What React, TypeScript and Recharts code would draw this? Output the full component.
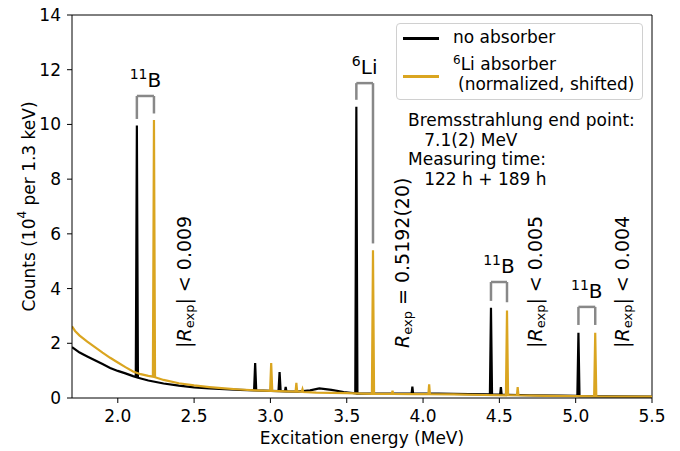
import React from "react";
import {
  LineChart,
  Line,
  XAxis,
  YAxis,
  ReferenceLine,
  ReferenceDot,
} from "recharts";

// excitation energy (MeV), counts (10^4 per 1.3 keV)
const noAbsorber: [number, number][] = [
  [1.7, 1.86], [1.75, 1.66], [1.8, 1.52], [1.85, 1.38], [1.9, 1.24],
  [1.95, 1.1], [2.0, 0.99], [2.05, 0.9], [2.1, 0.8], [2.118, 0.77],
  [2.125, 9.96], [2.132, 0.74], [2.2, 0.64], [2.3, 0.53], [2.4, 0.45],
  [2.5, 0.39], [2.6, 0.35], [2.7, 0.32], [2.8, 0.3], [2.893, 0.28],
  [2.9, 1.28], [2.907, 0.28], [3.0, 0.26], [3.053, 0.25], [3.06, 0.95],
  [3.067, 0.25], [3.095, 0.24], [3.1, 0.4], [3.105, 0.24], [3.18, 0.23],
  [3.26, 0.28], [3.32, 0.35], [3.4, 0.3], [3.48, 0.22], [3.556, 0.17],
  [3.563, 10.65], [3.57, 0.16], [3.65, 0.16], [3.8, 0.16], [3.925, 0.16],
  [3.93, 0.42], [3.935, 0.16], [4.1, 0.16], [4.3, 0.14], [4.438, 0.13],
  [4.445, 3.3], [4.452, 0.12], [4.505, 0.12], [4.51, 0.4], [4.515, 0.12],
  [4.7, 0.1], [4.9, 0.09], [5.011, 0.08], [5.018, 2.38], [5.025, 0.07],
  [5.2, 0.06], [5.5, 0.05],
];

const li6Absorber: [number, number][] = [
  [1.7, 2.62], [1.72, 2.45], [1.75, 2.28], [1.8, 2.06], [1.85, 1.86],
  [1.9, 1.66], [1.95, 1.47], [2.0, 1.3], [2.05, 1.13], [2.1, 0.97],
  [2.15, 0.87], [2.2, 0.81], [2.23, 0.78], [2.237, 10.16], [2.244, 0.76],
  [2.3, 0.66], [2.4, 0.54], [2.5, 0.46], [2.6, 0.4], [2.7, 0.35],
  [2.8, 0.31], [2.9, 0.28], [2.998, 0.26], [3.005, 1.28], [3.012, 0.26],
  [3.1, 0.24], [3.165, 0.23], [3.17, 0.55], [3.175, 0.23], [3.205, 0.23],
  [3.21, 0.32], [3.215, 0.22], [3.3, 0.2], [3.5, 0.18], [3.6, 0.16],
  [3.665, 0.15], [3.672, 5.4], [3.679, 0.15], [3.795, 0.15], [3.8, 0.26],
  [3.805, 0.15], [3.95, 0.14], [4.035, 0.14], [4.04, 0.5], [4.045, 0.14],
  [4.2, 0.13], [4.4, 0.11], [4.543, 0.1], [4.55, 3.2], [4.557, 0.1],
  [4.615, 0.1], [4.62, 0.4], [4.625, 0.1], [4.8, 0.08], [5.0, 0.07],
  [5.121, 0.06], [5.128, 2.38], [5.135, 0.06], [5.3, 0.05], [5.5, 0.05],
];

const xTicks = [2.0, 2.5, 3.0, 3.5, 4.0, 4.5, 5.0, 5.5];
const yTicks = [0, 2, 4, 6, 8, 10, 12, 14];

// isotope brackets: left/right energy, top, left leg end, right leg end
const brackets = [
  { iso: "11", el: "B", x1: 2.125, x2: 2.237, top: 11.04, y1: 10.2, y2: 10.4 },
  { iso: "6", el: "Li", x1: 3.563, x2: 3.672, top: 11.51, y1: 10.9, y2: 5.65 },
  { iso: "11", el: "B", x1: 4.445, x2: 4.55, top: 4.24, y1: 3.55, y2: 3.5 },
  { iso: "11", el: "B", x1: 5.018, x2: 5.128, top: 3.33, y1: 2.67, y2: 2.67 },
];

const ratios = [
  { x: 2.434, text: "| < 0.009", abs: true },
  { x: 3.86, text: " = 0.5192(20)", abs: false },
  { x: 4.734, text: "| < 0.005", abs: true },
  { x: 5.304, text: "| < 0.004", abs: true },
];

const FONT = "DejaVu Sans";
const GOLD = "#daa520";
const FS = 17;

const toRows = (pts: [number, number][]) => pts.map(([e, c]) => ({ e, c }));

export default function App() {
  return (
    <div style={{ position: "relative", width: 680, height: 451, fontFamily: FONT }}>
      <style>{"body{margin:0}"}</style>
      <LineChart
        width={680}
        height={451}
        margin={{ top: 15, right: 28, left: 0, bottom: 0 }}
      >
        <XAxis
          type="number"
          dataKey="e"
          domain={[1.7, 5.5]}
          ticks={xTicks}
          tickFormatter={(v: number) => v.toFixed(1)}
          allowDataOverflow
          height={53}
          tickSize={5}
          tickMargin={7}
          stroke="#000"
          tick={{ fill: "#000", fontSize: FS, fontFamily: FONT }}
          label={({ viewBox }: any) => (
            <text
              x={viewBox.x + viewBox.width / 2}
              y={viewBox.y + 40}
              textAnchor="middle"
              dominantBaseline="central"
              fontSize={FS}
              fontFamily={FONT}
            >
              Excitation energy (MeV)
            </text>
          )}
        />
        <YAxis
          type="number"
          dataKey="c"
          domain={[0, 14]}
          ticks={yTicks}
          allowDataOverflow
          width={72}
          tickSize={5}
          tickMargin={6}
          stroke="#000"
          tick={{ fill: "#000", fontSize: FS, fontFamily: FONT }}
          label={({ viewBox }: any) => {
            const cx = 29;
            const cy = viewBox.y + viewBox.height / 2;
            return (
              <text
                x={cx}
                y={cy}
                transform={`rotate(-90, ${cx}, ${cy})`}
                textAnchor="middle"
                dominantBaseline="central"
                fontSize={FS}
                fontFamily={FONT}
              >
                Counts (10
                <tspan fontSize={12} dy={-7}>4</tspan>
                <tspan dy={7}> per 1.3 keV)</tspan>
              </text>
            );
          }}
        />
        <ReferenceLine y={14} stroke="#000" />
        <ReferenceLine x={5.5} stroke="#000" />

        <Line
          data={toRows(noAbsorber)}
          dataKey="c"
          type="linear"
          stroke="#000"
          strokeWidth={2.2}
          dot={false}
          isAnimationActive={false}
        />
        <Line
          data={toRows(li6Absorber)}
          dataKey="c"
          type="linear"
          stroke={GOLD}
          strokeWidth={2.2}
          dot={false}
          isAnimationActive={false}
        />

        {brackets.flatMap((b, i) => [
          <ReferenceLine
            key={`l${i}`}
            segment={[{ x: b.x1, y: b.y1 }, { x: b.x1, y: b.top }]}
            stroke="#888"
            strokeWidth={2.5}
          />,
          <ReferenceLine
            key={`t${i}`}
            segment={[{ x: b.x1, y: b.top }, { x: b.x2, y: b.top }]}
            stroke="#888"
            strokeWidth={2.5}
          />,
          <ReferenceLine
            key={`r${i}`}
            segment={[{ x: b.x2, y: b.top }, { x: b.x2, y: b.y2 }]}
            stroke="#888"
            strokeWidth={2.5}
          />,
          <ReferenceDot
            key={`d${i}`}
            x={(b.x1 + b.x2) / 2}
            y={b.top}
            r={0}
            shape={(p: any) => (
              <text
                x={p.cx}
                y={p.cy - 9}
                textAnchor="middle"
                fontSize={20}
                fontFamily={FONT}
              >
                <tspan fontSize={14} dy={-8}>{b.iso}</tspan>
                <tspan dy={8}>{b.el}</tspan>
              </text>
            )}
          />,
        ])}

        {ratios.map((r, i) => (
          <ReferenceDot
            key={`q${i}`}
            x={r.x}
            y={1.83}
            r={0}
            shape={(p: any) => (
              <text
                x={p.cx}
                y={p.cy}
                transform={`rotate(-90, ${p.cx}, ${p.cy})`}
                dominantBaseline="central"
                fontSize={19}
                fontFamily={FONT}
              >
                {r.abs ? "|" : ""}
                <tspan fontStyle="italic">R</tspan>
                <tspan fontSize={13} dy={5}>exp</tspan>
                <tspan dy={-5}>{r.text}</tspan>
              </text>
            )}
          />
        ))}
      </LineChart>

      <div
        style={{
          position: "absolute",
          left: 396,
          top: 23,
          width: 245,
          height: 75,
          border: "1px solid #d0d0d0",
          borderRadius: 4,
          background: "rgba(255,255,255,0.85)",
          fontSize: FS,
          color: "#000",
        }}
      >
        <div style={{ position: "absolute", left: 6, top: 13, width: 36, height: 2.5, background: "#000" }} />
        <div style={{ position: "absolute", left: 56, top: 3, lineHeight: "20px" }}>no absorber</div>
        <div style={{ position: "absolute", left: 6, top: 51, width: 36, height: 2.5, background: GOLD }} />
        <div style={{ position: "absolute", left: 56, top: 30, lineHeight: "20px", whiteSpace: "nowrap" }}>
          <span style={{ fontSize: 12, position: "relative", top: -6 }}>6</span>Li absorber
        </div>
        <div style={{ position: "absolute", left: 61, top: 50, lineHeight: "20px", whiteSpace: "nowrap" }}>
          (normalized, shifted)
        </div>
      </div>

      <div
        style={{
          position: "absolute",
          left: 408,
          top: 111,
          fontSize: FS,
          lineHeight: "19.5px",
          color: "#000",
          whiteSpace: "pre",
        }}
      >
        {"Bremsstrahlung end point:\n   7.1(2) MeV\nMeasuring time:\n   122 h + 189 h"}
      </div>
    </div>
  );
}
